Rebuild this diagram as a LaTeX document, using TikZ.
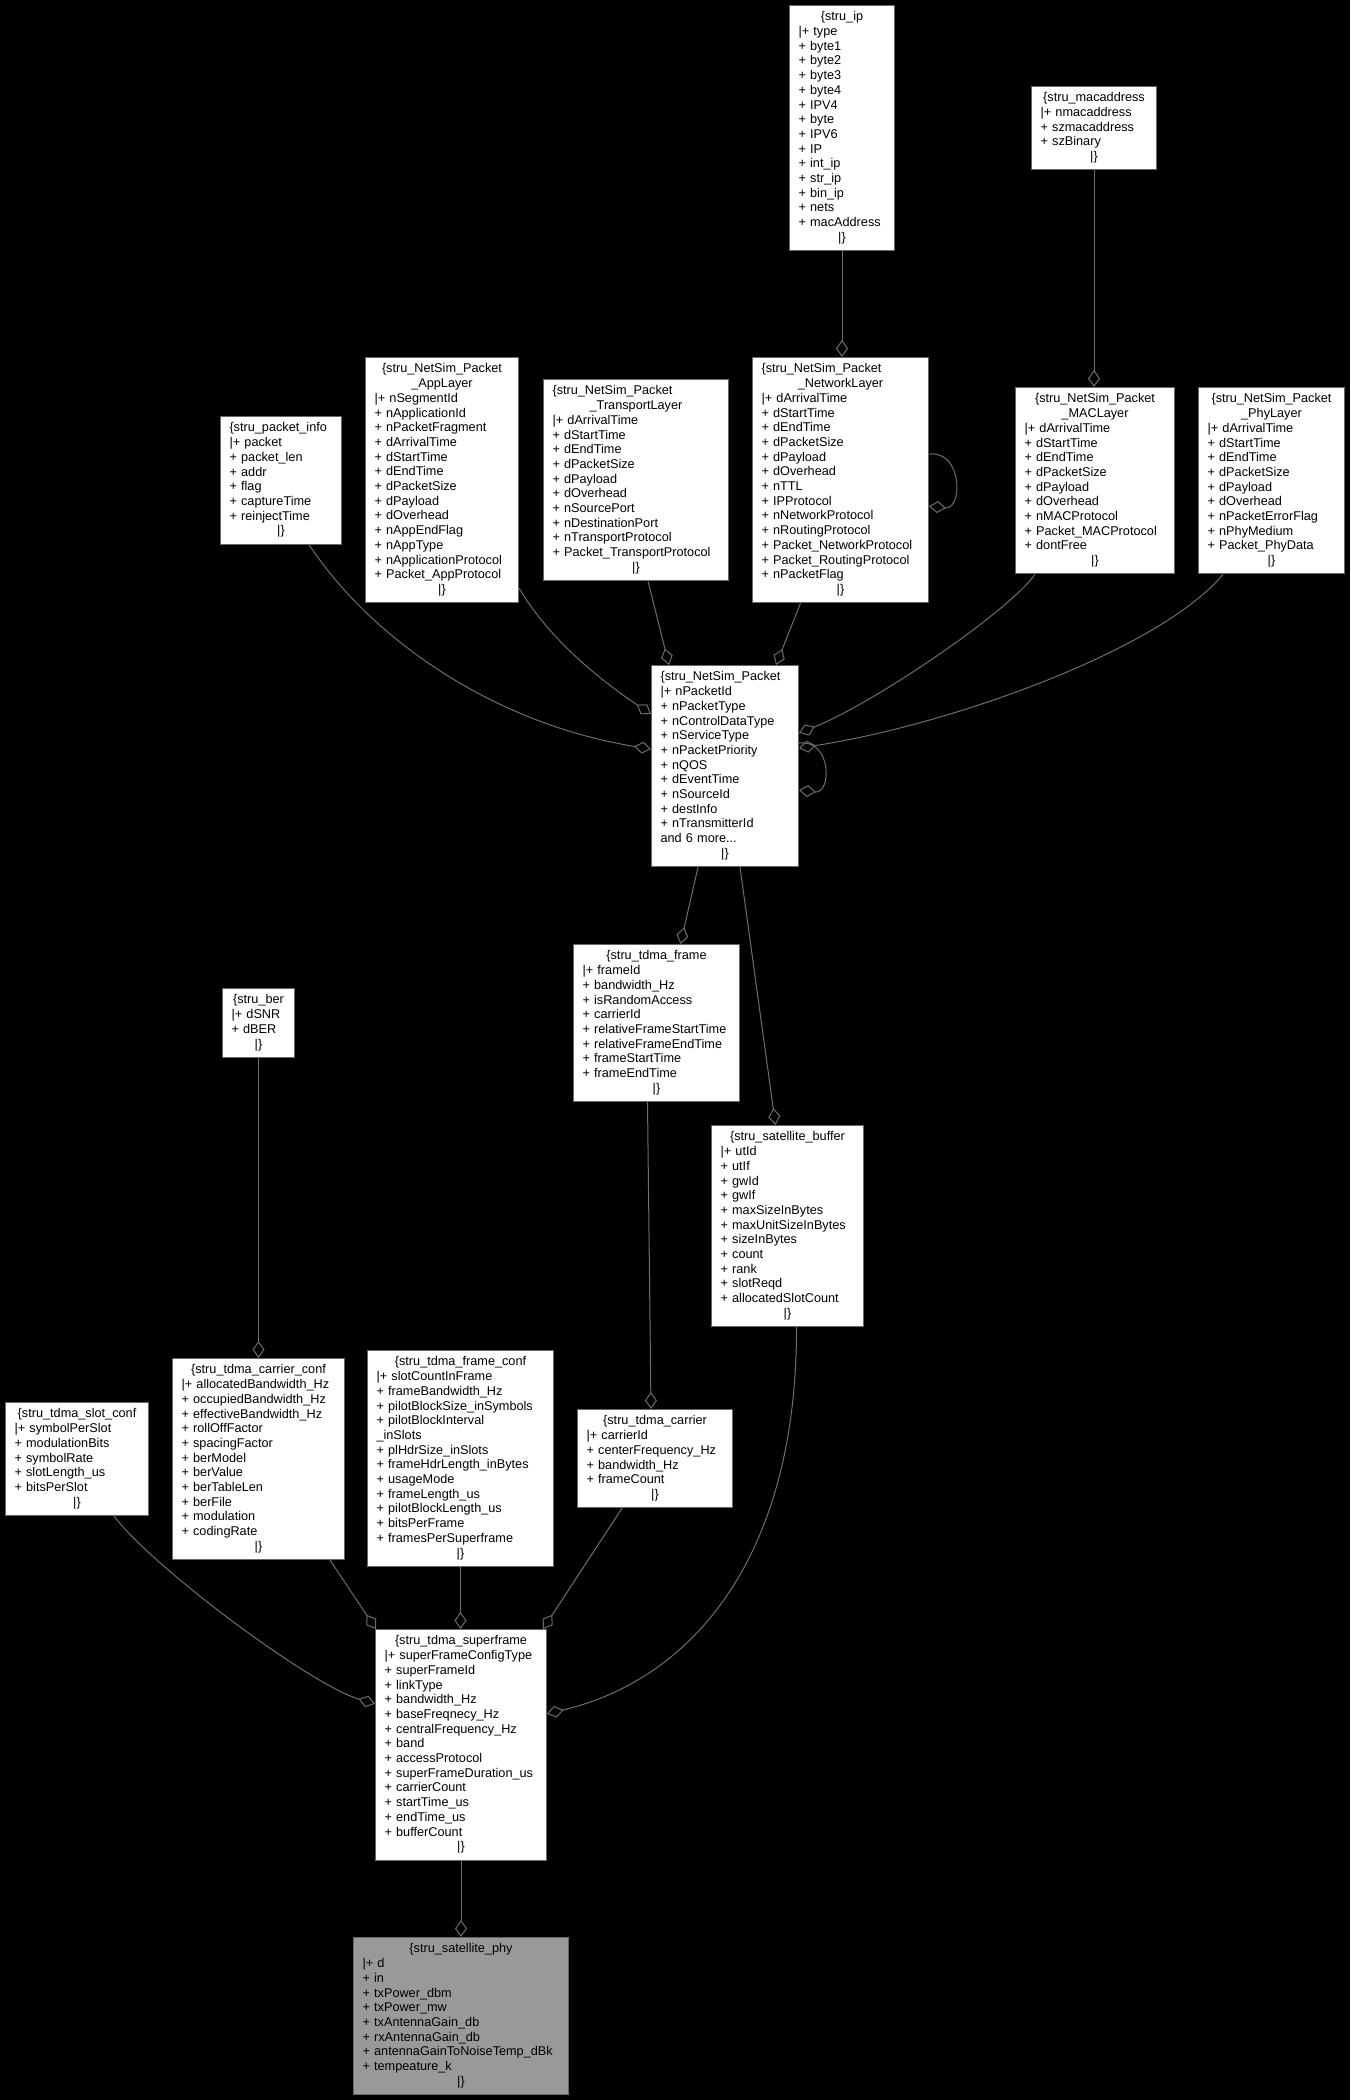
\documentclass[tikz,border=0pt]{standalone}
\usepackage{fontspec}
\setmainfont{Liberation Sans}
\usetikzlibrary{arrows.meta}
\definecolor{boxgray}{HTML}{666666}
\definecolor{edgegray}{HTML}{6E6E6E}
\definecolor{physel}{HTML}{999999}
\newcommand\hd[1]{\hspace*{\fill}#1\hspace*{\fill}\mbox{}}
\newcommand\fs{\rule[-4.3pt]{0pt}{14.7pt}}
\begin{document}
\begin{tikzpicture}[x=1pt,y=-1pt,
  cls/.style={draw=boxgray,fill=white,anchor=north west,inner xsep=9pt,inner ysep=5pt,
    align=left,line width=1pt,font=\fontsize{12.7}{14.7}\selectfont},
  agg/.style={draw=edgegray,line width=1pt,-{Diamond[open,length=17pt,width=12pt]}}]
\fill [black] (0,0) rectangle (1350,2100);
\useasboundingbox (0,0) rectangle (1350,2100);
%top row
\node [cls,text width=87pt] (ip) at (789,5) {\fs\hd{\{stru\_ip}\\|+~type\\+~byte1\\+~byte2\\+~byte3\\+~byte4\\+~IPV4\\+~byte\\+~IPV6\\+~IP\\+~int\_ip\\+~str\_ip\\+~bin\_ip\\+~nets\\+~macAddress\\\hd{|\}}\fs};
\node [cls,text width=107pt] (mac) at (1031,86) {\fs\hd{\{stru\_macaddress}\\|+~nmacaddress\\+~szmacaddress\\+~szBinary\\\hd{|\}}\fs};
\node [cls,text width=103pt] (pinfo) at (220,416) {\fs\{stru\_packet\_info\\|+~packet\\+~packet\_len\\+~addr\\+~flag\\+~captureTime\\+~reinjectTime\\\hd{|\}}\fs};
\node [cls,text width=135pt] (appl) at (365,357) {\fs\hd{\{stru\_NetSim\_Packet}\\\hd{\_AppLayer}\\|+~nSegmentId\\+~nApplicationId\\+~nPacketFragment\\+~dArrivalTime\\+~dStartTime\\+~dEndTime\\+~dPacketSize\\+~dPayload\\+~dOverhead\\+~nAppEndFlag\\+~nAppType\\+~nApplicationProtocol\\+~Packet\_AppProtocol\\\hd{|\}}\fs};
\node [cls,text width=167pt] (tpl) at (543,379) {\fs\{stru\_NetSim\_Packet\\\hd{\_TransportLayer}\\|+~dArrivalTime\\+~dStartTime\\+~dEndTime\\+~dPacketSize\\+~dPayload\\+~dOverhead\\+~nSourcePort\\+~nDestinationPort\\+~nTransportProtocol\\+~Packet\_TransportProtocol\\\hd{|\}}\fs};
\node [cls,text width=158pt] (nwl) at (752,357) {\fs\{stru\_NetSim\_Packet\\\hd{\_NetworkLayer}\\|+~dArrivalTime\\+~dStartTime\\+~dEndTime\\+~dPacketSize\\+~dPayload\\+~dOverhead\\+~nTTL\\+~IPProtocol\\+~nNetworkProtocol\\+~nRoutingProtocol\\+~Packet\_NetworkProtocol\\+~Packet\_RoutingProtocol\\+~nPacketFlag\\\hd{|\}}\fs};
\node [cls,text width=141pt] (macl) at (1015,387) {\fs\hd{\{stru\_NetSim\_Packet}\\\hd{\_MACLayer}\\|+~dArrivalTime\\+~dStartTime\\+~dEndTime\\+~dPacketSize\\+~dPayload\\+~dOverhead\\+~nMACProtocol\\+~Packet\_MACProtocol\\+~dontFree\\\hd{|\}}\fs};
\node [cls,text width=128pt] (phyl) at (1198,387) {\fs\hd{\{stru\_NetSim\_Packet}\\\hd{\_PhyLayer}\\|+~dArrivalTime\\+~dStartTime\\+~dEndTime\\+~dPacketSize\\+~dPayload\\+~dOverhead\\+~nPacketErrorFlag\\+~nPhyMedium\\+~Packet\_PhyData\\\hd{|\}}\fs};
%middle
\node [cls,text width=129pt] (pkt) at (651,665) {\fs\{stru\_NetSim\_Packet\\|+~nPacketId\\+~nPacketType\\+~nControlDataType\\+~nServiceType\\+~nPacketPriority\\+~nQOS\\+~dEventTime\\+~nSourceId\\+~destInfo\\+~nTransmitterId\\and 6 more...\\\hd{|\}}\fs};
\node [cls,text width=148pt] (tdf) at (573,944) {\fs\hd{\{stru\_tdma\_frame}\\|+~frameId\\+~bandwidth\_Hz\\+~isRandomAccess\\+~carrierId\\+~relativeFrameStartTime\\+~relativeFrameEndTime\\+~frameStartTime\\+~frameEndTime\\\hd{|\}}\fs};
\node [cls,text width=54pt] (ber) at (222,988) {\fs\hd{\{stru\_ber}\\|+~dSNR\\+~dBER\\\hd{|\}}\fs};
\node [cls,text width=134pt] (sbuf) at (711,1125) {\fs\hd{\{stru\_satellite\_buffer}\\|+~utId\\+~utIf\\+~gwId\\+~gwIf\\+~maxSizeInBytes\\+~maxUnitSizeInBytes\\+~sizeInBytes\\+~count\\+~rank\\+~slotReqd\\+~allocatedSlotCount\\\hd{|\}}\fs};
%bottom
\node [cls,text width=125pt] (sconf) at (5,1402) {\fs\hd{\{stru\_tdma\_slot\_conf}\\|+~symbolPerSlot\\+~modulationBits\\+~symbolRate\\+~slotLength\_us\\+~bitsPerSlot\\\hd{|\}}\fs};
\node [cls,text width=154pt] (cconf) at (172,1358) {\fs\hd{\{stru\_tdma\_carrier\_conf}\\|+~allocatedBandwidth\_Hz\\+~occupiedBandwidth\_Hz\\+~effectiveBandwidth\_Hz\\+~rollOffFactor\\+~spacingFactor\\+~berModel\\+~berValue\\+~berTableLen\\+~berFile\\+~modulation\\+~codingRate\\\hd{|\}}\fs};
\node [cls,text width=168pt] (fconf) at (367,1350) {\fs\hd{\{stru\_tdma\_frame\_conf}\\|+~slotCountInFrame\\+~frameBandwidth\_Hz\\+~pilotBlockSize\_inSymbols\\+~pilotBlockInterval\\\_inSlots\\+~plHdrSize\_inSlots\\+~frameHdrLength\_inBytes\\+~usageMode\\+~frameLength\_us\\+~pilotBlockLength\_us\\+~bitsPerFrame\\+~framesPerSuperframe\\\hd{|\}}\fs};
\node [cls,text width=137pt] (tcar) at (577,1409) {\fs\hd{\{stru\_tdma\_carrier}\\|+~carrierId\\+~centerFrequency\_Hz\\+~bandwidth\_Hz\\+~frameCount\\\hd{|\}}\fs};
\node [cls,text width=153pt] (sf) at (375,1629) {\fs\hd{\{stru\_tdma\_superframe}\\|+~superFrameConfigType\\+~superFrameId\\+~linkType\\+~bandwidth\_Hz\\+~baseFreqnecy\_Hz\\+~centralFrequency\_Hz\\+~band\\+~accessProtocol\\+~superFrameDuration\_us\\+~carrierCount\\+~startTime\_us\\+~endTime\_us\\+~bufferCount\\\hd{|\}}\fs};
\node [cls,fill=physel,text width=197pt] (sphy) at (353,1937) {\fs\hd{\{stru\_satellite\_phy}\\|+~d\\+~in\\+~txPower\_dbm\\+~txPower\_mw\\+~txAntennaGain\_db\\+~rxAntennaGain\_db\\+~antennaGainToNoiseTemp\_dBk\\+~tempeature\_k\\\hd{|\}}\fs};
%aggregations
\draw [agg] (ip.south) -- (ip.south |- nwl.north);
\draw [agg] (mac.south) -- (mac.south |- macl.north);
\draw [agg] ([yshift=26pt]nwl.east) .. controls +(34,-4) and +(34,4) .. ([yshift=-26pt]nwl.east);
\draw [agg] ([xshift=28pt]pinfo.south) .. controls (372,640) and (495,724) .. ([yshift=17pt]pkt.west);
\draw [agg] ([yshift=15pt]appl.south east) .. controls (550,640) and (600,680) .. ([yshift=52pt]pkt.west);
\draw [agg] ([xshift=12pt]tpl.south) -- ([xshift=-56pt]pkt.north);
\draw [agg] ([xshift=-40pt]nwl.south) -- ([xshift=51pt]pkt.north);
\draw [agg] ([xshift=20pt]macl.south west) .. controls (1005,615) and (870,705) .. ([yshift=33pt]pkt.east);
\draw [agg] ([xshift=25pt]phyl.south west) .. controls (1160,650) and (950,725) .. ([yshift=18pt]pkt.east);
\draw [agg] ([yshift=23pt]pkt.east) .. controls +(33,-4) and +(33,4) .. ([yshift=-24pt]pkt.east);
\draw [agg] ([xshift=-27pt]pkt.south) -- ([xshift=24pt]tdf.north);
\draw [agg] ([xshift=15pt]pkt.south) -- ([xshift=-12pt]sbuf.north);
\draw [agg] (ber.south) -- (ber.south |- cconf.north);
\draw [agg] ([xshift=-9pt]tdf.south) -- ([xshift=-4pt]tcar.north);
\draw [agg] ([xshift=37pt]sconf.south) .. controls (150,1565) and (310,1685) .. ([yshift=41pt]sf.west);
\draw [agg] ([xshift=-15pt]cconf.south east) -- ([xshift=1pt]sf.north west);
\draw [agg] (fconf.south) -- (fconf.south |- sf.north);
\draw [agg] ([xshift=-33pt]tcar.south) -- ([xshift=-4pt]sf.north east);
\draw [agg] ([xshift=9pt]sbuf.south) .. controls (797,1560) and (690,1680) .. ([yshift=31pt]sf.east);
\draw [agg] (sf.south) -- (sphy.north);
\end{tikzpicture}
\end{document}
